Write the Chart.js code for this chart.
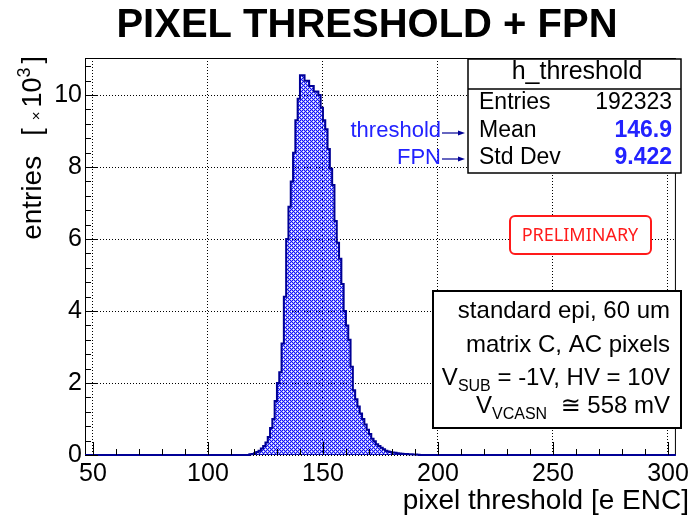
<!DOCTYPE html>
<html>
<head>
<meta charset="utf-8">
<script src="https://cdn.jsdelivr.net/npm/chart.js@4.4.1/dist/chart.umd.min.js"></script>
<style>
  html, body { margin: 0; padding: 0; background: #fff; }
  #wrap { width: 693px; height: 523px; position: relative; }
</style>
</head>
<body>
<div id="wrap"><canvas id="thresholdChart"></canvas></div>
<script>
// histogram: left bin edge (e ENC) and entries in thousands
const firstBin = 118;
const binWidth = 1;
const entriesK = [
    0.02, 0.03, 0.05, 0.08, 0.12, 0.18, 0.25, 0.35, 0.5, 0.75,   // 118-127
    1.0, 1.5, 2.0, 2.3, 3.1, 4.4, 6.0, 6.9, 7.6, 8.4,            // 128-137
    9.3, 9.9, 10.55, 10.55, 10.4, 10.4, 10.25, 10.25, 10.1, 10.1, // 138-147
    10.0, 9.65, 9.3, 9.05, 8.5, 7.95, 7.5, 6.5, 5.9, 5.45,       // 148-157
    4.75, 4.0, 3.6, 3.2, 2.45, 1.8, 1.55, 1.35, 1.15, 1.0,       // 158-167
    0.85, 0.7, 0.58, 0.45, 0.38, 0.3, 0.25, 0.2, 0.16, 0.12,     // 168-177
    0.1, 0.08, 0.07, 0.06, 0.05, 0.04, 0.035, 0.03, 0.025, 0.02, // 178-187
    0.018, 0.015, 0.012, 0.01                                    // 188-191
];

const xRange = [46.55, 303.45];
const yRange = [0, 11.03];
const xTicks = [50, 100, 150, 200, 250, 300];
const xMinorTicks = [60, 70, 80, 90, 110, 120, 130, 140, 160, 170, 180, 190, 210, 220, 230, 240, 260, 270, 280, 290];
const yTicks = [0, 2, 4, 6, 8, 10];
const yMinorTicks = [0.4, 0.8, 1.2, 1.6, 2.4, 2.8, 3.2, 3.6, 4.4, 4.8, 5.2, 5.6, 6.4, 6.8, 7.2, 7.6, 8.4, 8.8, 9.2, 9.6, 10.4, 10.8];

const statsRows = [
    ['Entries', '192323', false],
    ['Mean', '146.9', true],
    ['Std Dev', '9.422', true]
];
const infoLines = ['standard epi, 60 um', 'matrix C, AC pixels'];

const FONT = '"Liberation Sans", Arial, "DejaVu Sans", sans-serif';
const BLUE = '#2222ff';
const NAVY = '#000096';

// build the step outline points (left edges) with empty range at both ends
function histPoints() {
    const pts = [{ x: xRange[0], y: 0 }];
    entriesK.forEach((v, i) => pts.push({ x: firstBin + i * binWidth, y: v }));
    pts.push({ x: firstBin + entriesK.length * binWidth, y: 0 });
    pts.push({ x: xRange[1], y: 0 });
    return pts;
}

// ROOT-like cross hatch: blue with see-through holes
function hatchPattern() {
    const tile = document.createElement('canvas');
    tile.width = 4; tile.height = 4;
    const tctx = tile.getContext('2d');
    const img = tctx.createImageData(4, 4);
    const holes = ['1,1', '3,3'];
    const half = ['0,1', '1,0', '2,1', '1,2', '2,3', '3,2', '0,3', '3,0'];
    for (let y = 0; y < 4; y++) {
        for (let x = 0; x < 4; x++) {
            const k = (y * 4 + x) * 4;
            const key = x + ',' + y;
            img.data[k] = 16; img.data[k + 1] = 16; img.data[k + 2] = 250;
            img.data[k + 3] = holes.includes(key) ? 0 : (half.includes(key) ? 95 : 255);
        }
    }
    tctx.putImageData(img, 0, 0);
    return tctx.createPattern(tile, 'repeat');
}

// draw text pieces right-aligned at rightX; {gap: n} inserts blank space
function drawRich(ctx, parts, rightX, baseY) {
    let total = 0;
    parts.forEach(p => {
        if (p.gap) { p.w = p.gap; } else {
            ctx.font = p.font;
            p.w = ctx.measureText(p.t).width;
        }
        total += p.w;
    });
    let x = rightX - total;
    ctx.textAlign = 'left';
    parts.forEach(p => {
        if (!p.gap) {
            ctx.font = p.font;
            ctx.fillText(p.t, x, baseY + (p.dy || 0));
        }
        x += p.w;
    });
}

function arrow(ctx, x0, x1, y) {
    ctx.strokeStyle = NAVY;
    ctx.fillStyle = NAVY;
    ctx.lineWidth = 1.2;
    ctx.beginPath();
    ctx.moveTo(x0, y);
    ctx.lineTo(x1 - 5, y);
    ctx.stroke();
    ctx.beginPath();
    ctx.moveTo(x1, y);
    ctx.lineTo(x1 - 7, y - 2.5);
    ctx.lineTo(x1 - 7, y + 2.5);
    ctx.closePath();
    ctx.fill();
}

const rootDecor = {
    id: 'rootDecor',
    beforeDatasetsDraw(chart) {
        const { ctx, chartArea: a } = chart;
        ctx.save();
        ctx.strokeStyle = '#000';
        ctx.lineWidth = 1;
        ctx.strokeRect(a.left + 0.5, a.top + 0.5, a.right - a.left - 1, a.bottom - a.top - 1);
        ctx.restore();
    },
    afterDatasetsDraw(chart) {
        const { ctx, chartArea: a, scales } = chart;
        const xs = scales.x, ys = scales.y;
        ctx.save();
        ctx.strokeStyle = '#000';
        ctx.lineWidth = 1;
        ctx.beginPath();
        xTicks.forEach(v => {
            const px = Math.round(xs.getPixelForValue(v)) + 0.5;
            ctx.moveTo(px, a.bottom); ctx.lineTo(px, a.bottom - 13);
        });
        xMinorTicks.forEach(v => {
            const px = Math.round(xs.getPixelForValue(v)) + 0.5;
            ctx.moveTo(px, a.bottom); ctx.lineTo(px, a.bottom - 6);
        });
        yTicks.forEach(v => {
            const py = Math.round(ys.getPixelForValue(v)) + 0.5;
            ctx.moveTo(a.left, py); ctx.lineTo(a.left + 13, py);
        });
        yMinorTicks.forEach(v => {
            const py = Math.round(ys.getPixelForValue(v)) + 0.5;
            ctx.moveTo(a.left, py); ctx.lineTo(a.left + 6, py);
        });
        ctx.stroke();

        // title
        ctx.fillStyle = '#000';
        ctx.textAlign = 'center';
        ctx.textBaseline = 'alphabetic';
        ctx.font = 'bold 40px ' + FONT;
        ctx.fillText('PIXEL THRESHOLD + FPN', 367, 37);

        // x axis title
        ctx.textAlign = 'right';
        ctx.font = '28px ' + FONT;
        ctx.fillText('pixel threshold [e ENC]', 689, 509);

        // y axis title, rotated, right-justified to the top of the frame
        ctx.save();
        ctx.translate(41, 56);
        ctx.rotate(-Math.PI / 2);
        drawRich(ctx, [
            { t: 'entries', font: '28px ' + FONT },
            { gap: 20 },
            { t: '[', font: '27px ' + FONT },
            { gap: 8 },
            { t: '\u00d7', font: '15px ' + FONT },
            { gap: 4 },
            { t: '10', font: '27px ' + FONT },
            { t: '3', font: '18px ' + FONT, dy: -11 },
            { gap: 4 },
            { t: ']', font: '27px ' + FONT }
        ], 0, 0);
        ctx.restore();

        // stats box
        ctx.fillStyle = '#fff';
        ctx.fillRect(468, 59, 214, 114);
        ctx.strokeStyle = '#000';
        ctx.lineWidth = 1.5;
        ctx.strokeRect(468, 59, 213, 114);
        ctx.beginPath();
        ctx.moveTo(468, 89); ctx.lineTo(681, 89);
        ctx.stroke();
        ctx.fillStyle = '#000';
        ctx.textAlign = 'center';
        ctx.textBaseline = 'middle';
        ctx.font = '25px ' + FONT;
        ctx.fillText('h_threshold', 577, 72);
        const rowY = [103, 131, 158];
        statsRows.forEach(([label, val, hi], i) => {
            ctx.textAlign = 'left';
            ctx.fillStyle = '#000';
            ctx.font = '23px ' + FONT;
            ctx.fillText(label, 479, rowY[i]);
            ctx.textAlign = 'right';
            ctx.fillStyle = hi ? BLUE : '#000';
            ctx.font = (hi ? 'bold ' : '') + '23px ' + FONT;
            ctx.fillText(val, 672, rowY[i]);
        });

        // threshold / FPN pointers
        ctx.fillStyle = BLUE;
        ctx.font = '22px ' + FONT;
        ctx.textAlign = 'right';
        ctx.fillText('threshold', 441, 131);
        ctx.fillText('FPN', 441, 158);
        arrow(ctx, 442, 465, 133);
        arrow(ctx, 442, 465, 159);

        // PRELIMINARY stamp
        ctx.strokeStyle = '#ff1a1a';
        ctx.lineWidth = 2;
        ctx.beginPath();
        ctx.roundRect(510, 216, 141, 38, 5);
        ctx.fillStyle = '#fff';
        ctx.fill();
        ctx.stroke();
        ctx.fillStyle = '#ff1a1a';
        ctx.textAlign = 'center';
        ctx.font = '18px "Noto Sans", "Open Sans", sans-serif';
        ctx.fillText('PRELIMINARY', 580, 236);

        // conditions box
        ctx.fillStyle = '#fff';
        ctx.fillRect(433, 291, 248, 137);
        ctx.strokeStyle = '#000';
        ctx.lineWidth = 2;
        ctx.strokeRect(433, 291, 248, 137);
        ctx.fillStyle = '#000';
        ctx.textBaseline = 'alphabetic';
        ctx.textAlign = 'right';
        ctx.font = '24px ' + FONT;
        ctx.fillText(infoLines[0], 670, 318);
        ctx.fillText(infoLines[1], 670, 352);
        drawRich(ctx, [
            { t: 'V', font: '24px ' + FONT },
            { t: 'SUB', font: '16px ' + FONT, dy: 6 },
            { t: ' = -1V, HV = 10V', font: '24px ' + FONT }
        ], 670, 385);
        drawRich(ctx, [
            { t: 'V', font: '24px ' + FONT },
            { t: 'VCASN', font: '16px ' + FONT, dy: 6 },
            { t: '  \u2245 558 mV', font: '24px ' + FONT }
        ], 670, 413);
        ctx.restore();
    }
};

const ctx = document.getElementById('thresholdChart').getContext('2d');
new Chart(ctx, {
    type: 'line',
    data: {
        datasets: [{
            label: 'h_threshold',
            data: histPoints(),
            stepped: 'before',
            borderColor: NAVY,
            borderWidth: 2,
            backgroundColor: hatchPattern(),
            fill: 'origin',
            pointRadius: 0,
            clip: false
        }]
    },
    options: {
        responsive: true,
        maintainAspectRatio: false,
        animation: false,
        events: [],
        layout: { padding: { top: 58, right: 12, bottom: 0, left: 0 } },
        plugins: {
            legend: { display: false },
            tooltip: { enabled: false },
            title: { display: false }
        },
        scales: {
            x: {
                type: 'linear',
                min: xRange[0],
                max: xRange[1],
                afterBuildTicks: s => { s.ticks = xTicks.map(v => ({ value: v })); },
                afterFit: s => { s.height = 68; },
                grid: { color: '#000', lineWidth: 1, drawTicks: false, tickLength: 0 },
                border: { display: false, dash: [1, 2] },
                ticks: {
                    color: '#000',
                    font: { family: FONT, size: 25 },
                    padding: 4,
                    maxRotation: 0,
                    autoSkip: false
                }
            },
            y: {
                type: 'linear',
                min: yRange[0],
                max: yRange[1],
                afterBuildTicks: s => { s.ticks = yTicks.map(v => ({ value: v })); },
                afterFit: s => { s.width = 85; },
                grid: { color: '#000', lineWidth: 1, drawTicks: false, tickLength: 0 },
                border: { display: false, dash: [1, 2] },
                ticks: {
                    color: '#000',
                    font: { family: FONT, size: 25 },
                    padding: 3,
                    autoSkip: false
                }
            }
        }
    },
    plugins: [rootDecor]
});
</script>
</body>
</html>
